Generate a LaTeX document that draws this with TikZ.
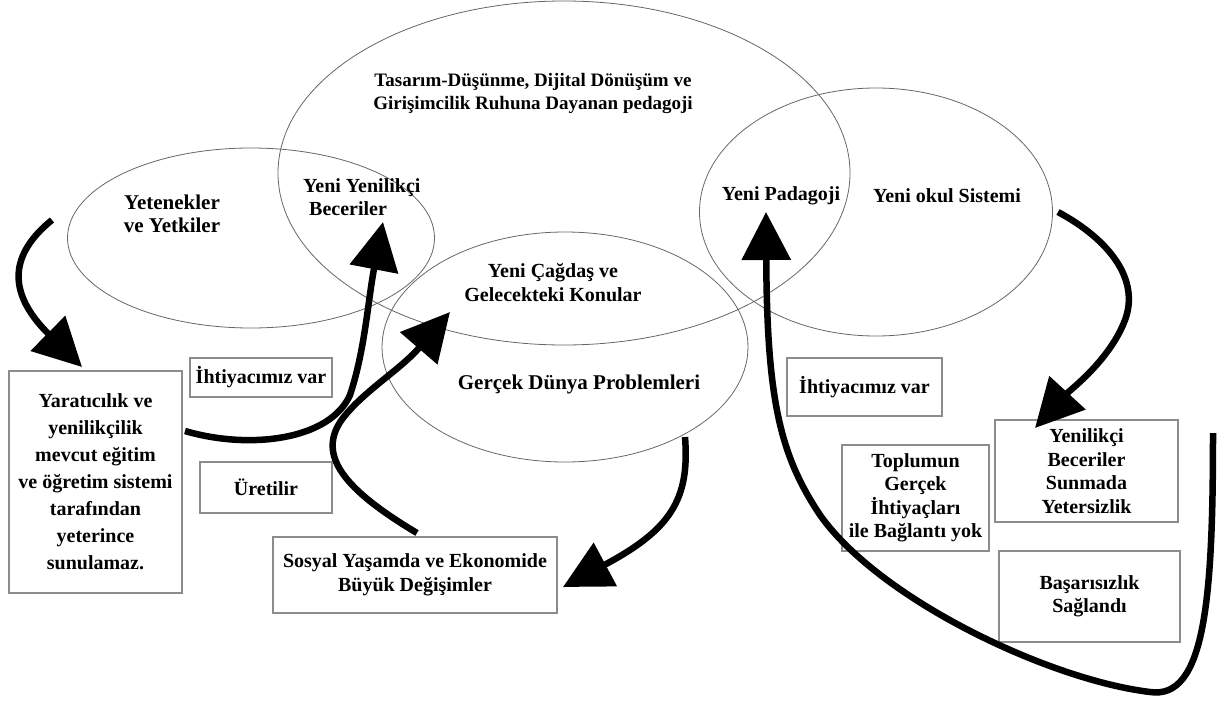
\documentclass[tikz,border=0pt]{standalone}
\usepackage{fontspec}
\setmainfont{Liberation Serif}
\usetikzlibrary{arrows.meta,shapes.geometric}
\begin{document}
\begin{tikzpicture}[x=1pt,y=-1pt,
  ell/.style={ellipse,draw=black!60,line width=0.8pt,inner sep=0pt},
  lbl/.style={font=\bfseries\fontsize{20}{23}\selectfont,text=black,align=center,inner sep=0pt},
  bx/.style={draw=black!45,line width=1.2pt,inner sep=0pt,font=\bfseries\fontsize{20}{23.5}\selectfont,text=black,align=center},
  bigarrow/.style={line width=6.5pt,draw=black,-{Triangle[length=48pt,width=48pt]}},
]
\useasboundingbox (0,0) rectangle (1219,704);

% ellipses
\node[ell,minimum width=572pt,minimum height=344pt] (Ebig) at (564,173) {};
\node[ell,minimum width=367pt,minimum height=180pt] (Eleft) at (251,238) {};
\node[ell,minimum width=353pt,minimum height=248pt] (Eright) at (876,212) {};
\node[ell,minimum width=366pt,minimum height=230pt] (Emid) at (565,347) {};

% ellipse texts
\node[lbl,font=\bfseries\fontsize{19}{23}\selectfont] (tasarim) at (533,94) {Tasarım-Düşünme, Dijital Dönüşüm ve\\Girişimcilik Ruhuna Dayanan pedagoji};
\node[lbl,font=\bfseries\fontsize{21}{23}\selectfont] (yetenek) at (172,214) {Yetenekler\\ve Yetkiler};
\node[lbl,align=left,anchor=west] (yenyen) at (303,197) {Yeni Yenilikçi\\\hspace{6pt}Beceriler};
\node[lbl] (padagoji) at (781,196) {Yeni Padagoji};
\node[lbl] (okul) at (947,196) {Yeni okul Sistemi};
\node[lbl,font=\bfseries\fontsize{20}{24}\selectfont] (cagdas) at (553,283) {Yeni Çağdaş ve\\Gelecekteki Konular};
\node[lbl,font=\bfseries\fontsize{21}{23}\selectfont] (gercek) at (579,384) {Gerçek Dünya Problemleri};

% boxes
\node[bx,minimum width=173pt,minimum height=222pt,font=\bfseries\fontsize{20}{27}\selectfont] (lbox) at (95.5,482) {Yaratıcılık ve\\yenilikçilik\\mevcut eğitim\\ve öğretim sistemi\\tarafından\\yeterince\\sunulamaz.};
\node[bx,minimum width=142pt,minimum height=39pt] (need1) at (261,377.5) {İhtiyacımız var};
\node[bx,minimum width=132pt,minimum height=51pt] (uret) at (266,487.5) {Üretilir};
\node[bx,minimum width=284pt,minimum height=76pt] (sosyal) at (415,575) {Sosyal Yaşamda ve Ekonomide\\Büyük Değişimler};
\node[bx,minimum width=155pt,minimum height=58pt] (need2) at (864.5,387) {İhtiyacımız var};
\node[bx,minimum width=147pt,minimum height=106pt] (toplum) at (915.5,498) {Toplumun\\Gerçek\\İhtiyaçları\\ile Bağlantı yok};
\node[bx,minimum width=183pt,minimum height=102pt] (yenil) at (1086.5,471) {Yenilikçi\\Beceriler\\Sunmada\\Yetersizlik};
\node[bx,minimum width=181pt,minimum height=91pt] (basar) at (1089.5,596.5) {Başarısızlık\\Sağlandı};

% connector end points
\coordinate (a1s) at (52,220);
\coordinate (a1e) at (82,367);
\coordinate (a2s) at (185,431);
\coordinate (a2e) at (383,222);
\coordinate (a3s) at (417,533);
\coordinate (a3e) at (450,312);
\coordinate (a4s) at (685,437);
\coordinate (a4e) at (563,587);
\coordinate (a5s) at (1058,212);
\coordinate (a5e) at (1035,428);
\coordinate (a6s) at (1213,433);
\coordinate (a6e) at (766,212);

% arrows
\draw[bigarrow] (a1s) .. controls (10,254) and (6,292) .. (a1e);
\draw[bigarrow] (a2s) .. controls (250,450) and (330,440) .. (350,395) .. controls (365,350) and (368,300) .. (a2e);
\draw[bigarrow] (a3s) .. controls (345,490) and (315,455) .. (343,418) .. controls (365,390) and (400,370) .. (a3e);
\draw[bigarrow] (a4s) .. controls (690,500) and (670,530) .. (a4e);
\draw[bigarrow] (a5s) .. controls (1110,240) and (1140,280) .. (1125,320) .. controls (1110,360) and (1070,390) .. (a5e);
\draw[bigarrow] (a6s) .. controls (1213,600) and (1205,700) .. (1150,692) .. controls (1050,680) and (880,600) .. (820,515) .. controls (780,455) and (767,400) .. (a6e);
\end{tikzpicture}
\end{document}
